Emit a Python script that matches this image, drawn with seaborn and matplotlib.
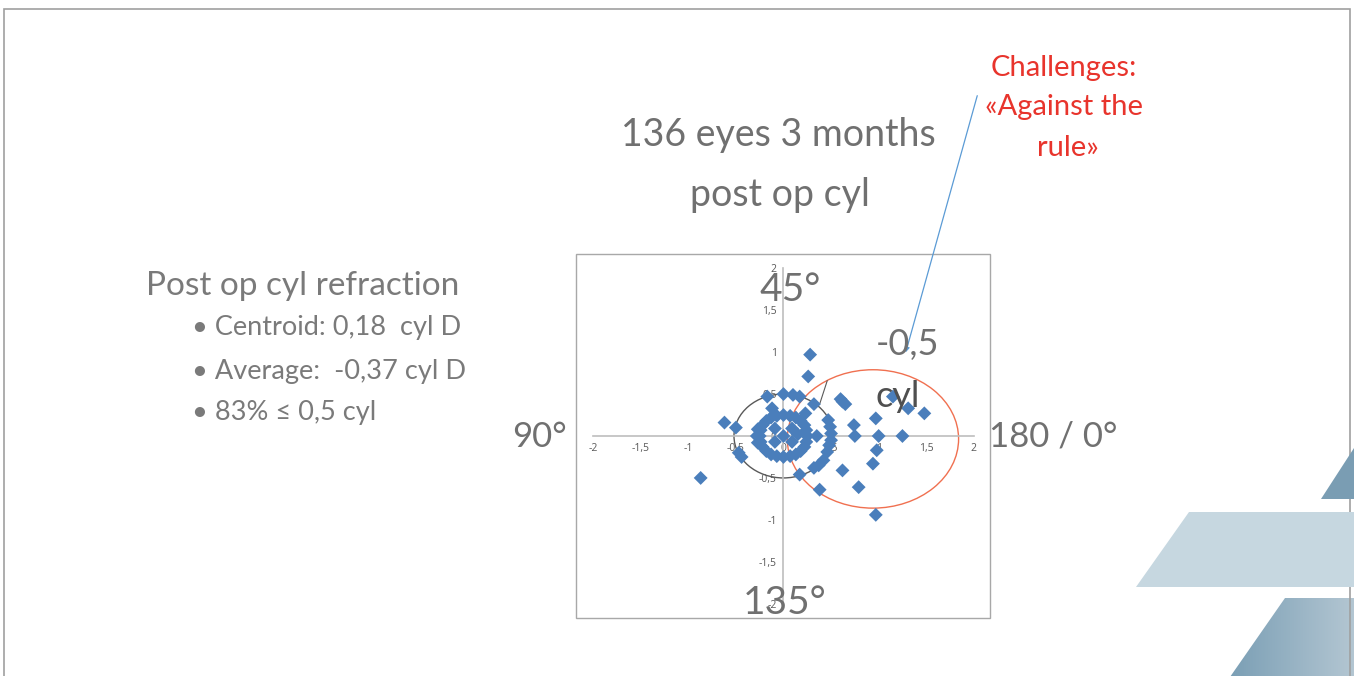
import numpy as np
import pandas as pd
import matplotlib
matplotlib.use("Agg")
import matplotlib.pyplot as plt
import seaborn as sns
from matplotlib.patches import Ellipse, Rectangle, Polygon

# valores (vetor de cilindro pós-op, em dioptrias)
pontos_x = [0.28, 0.26, -0.62, -0.50, -0.87, -0.47, -0.44,
            -0.17, 0.00, 0.10, 0.17, -0.12, 0.32, 0.23,
            0.17, 0.32, 0.37, 0.42, 0.38,
            0.60, 0.62, 0.65, 0.74, 0.75, 0.62, 0.79,
            0.97, 1.00, 0.98, 0.94, 0.97, 1.15, 1.31, 1.25, 1.48, 0.35,
            0.47, 0.49, 0.50, 0.50, 0.48, 0.46]
pontos_y = [0.97, 0.71, 0.16, 0.10, -0.50, -0.20, -0.25,
            0.47, 0.50, 0.49, 0.47, 0.33, 0.38, 0.27,
            -0.46, -0.38, -0.35, -0.29, -0.64,
            0.44, 0.41, 0.38, 0.13, 0.00, -0.41, -0.61,
            0.21, 0.00, -0.17, -0.33, -0.94, 0.47, 0.33, 0.00, 0.27, 0.00,
            0.19, 0.11, 0.03, -0.05, -0.11, -0.19]
anel_x = [0.25, 0.24, 0.22, 0.18, 0.13, 0.07, 0.00, -0.07, -0.13, -0.18, -0.22, -0.24,
          -0.25, -0.24, -0.22, -0.18, -0.13, -0.07, 0.00, 0.07, 0.13, 0.18, 0.22, 0.24,
          -0.28, -0.27, -0.27]
anel_y = [0.00, 0.07, 0.13, 0.18, 0.22, 0.24, 0.25, 0.24, 0.22, 0.18, 0.13, 0.07,
          0.00, -0.07, -0.13, -0.18, -0.22, -0.24, -0.25, -0.24, -0.22, -0.18, -0.13, -0.07,
          0.00, 0.08, -0.08]
centro_x = [0.00, -0.09, 0.09, -0.09, 0.09, 0.15]
centro_y = [0.00, 0.09, 0.09, -0.07, -0.07, 0.02]

ticks = [-2, -1.5, -1, -0.5, 0, 0.5, 1, 1.5, 2]

df = pd.DataFrame({'x': pontos_x + anel_x + centro_x,
                   'y': pontos_y + anel_y + centro_y})

sns.set_style('white')
plt.rcParams['font.family'] = ['Lato', 'DejaVu Sans']

W, H = 1354, 676
fig = plt.figure(figsize=(W / 100, H / 100), dpi=100)


def fx(x):
    return x / W


def fy(y):
    return 1 - y / H


ax = fig.add_axes([fx(576), fy(618), 414 / W, 364 / H])
sns.scatterplot(data=df, x='x', y='y', marker='D', s=50, color='#4a7ebb',
                edgecolor='none', ax=ax, zorder=3)
ax.set_xlim(-2.18, 2.17)
ax.set_ylim(-2.17, 2.17)
ax.set_xlabel('')
ax.set_ylabel('')

# eixos no centro, como no Excel
for lado in ['top', 'right']:
    ax.spines[lado].set_visible(False)
ax.spines['left'].set_position(('data', 0))
ax.spines['bottom'].set_position(('data', 0))
ax.spines['left'].set_bounds(-2, 2)
ax.spines['bottom'].set_bounds(-2, 2)
for lado in ['left', 'bottom']:
    ax.spines[lado].set_color('#bdbdbd')
    ax.spines[lado].set_linewidth(1.2)
rotulos = [('%g' % t).replace('.', ',') for t in ticks]
ax.set_xticks(ticks)
ax.set_xticklabels(rotulos)
ax.set_yticks(ticks)
ax.set_yticklabels(rotulos)
ax.tick_params(axis='both', direction='out', length=3, color='#bdbdbd',
               labelsize=7.5, labelcolor='#595959', pad=2)
for lbl in ax.get_xticklabels() + ax.get_yticklabels():
    lbl.set_family(['Open Sans', 'DejaVu Sans'])
ax.add_patch(Rectangle((0, 0), 1, 1, transform=ax.transAxes, fill=False,
                       ec='#a8a8a8', lw=1, clip_on=False))

ax.add_patch(Ellipse((0, 0), 1.04, 1.0, fill=False, ec='#595959', lw=1, zorder=2))
ax.add_patch(Ellipse((0.94, -0.035), 1.8, 1.65, fill=False, ec='#f07050', lw=1, zorder=2))
ax.plot([0.38, 0.46], [0.38, 0.66], color='#595959', lw=0.8)

# textos do slide
cinza = '#707070'
fig.text(fx(778), fy(135), '136 eyes 3 months', ha='center', va='center',
         fontsize=27, color=cinza)
fig.text(fx(780), fy(195), 'post op cyl', ha='center', va='center',
         fontsize=27, color=cinza)
fig.text(fx(146), fy(286), 'Post op cyl refraction', ha='left', va='center',
         fontsize=24, color='#7a7a7a')
for yy, txt in [(328, '• Centroid: 0,18  cyl D'), (371, '• Average:  -0,37 cyl D'),
                (413, '• 83% ≤ 0,5 cyl')]:
    fig.text(fx(192), fy(yy), txt, ha='left', va='center', fontsize=19.5, color='#7a7a7a')

fig.text(fx(539), fy(437), '90°', ha='center', va='center', fontsize=25, color=cinza)
fig.text(fx(1053), fy(437), '180 / 0°', ha='center', va='center', fontsize=25, color=cinza)
fig.text(fx(790), fy(290), '45°', ha='center', va='center', fontsize=28, color=cinza)
fig.text(fx(785), fy(603), '135°', ha='center', va='center', fontsize=28, color=cinza)
fig.text(fx(907), fy(345), '-0,5', ha='center', va='center', fontsize=26, color=cinza)
fig.text(fx(898), fy(397), 'cyl', ha='center', va='center', fontsize=26, color='#4f4f4f')

vermelho = '#e8342c'
fig.text(fx(1064), fy(68), 'Challenges:', ha='center', va='center', fontsize=21, color=vermelho)
fig.text(fx(1064), fy(107), '«Against the', ha='center', va='center', fontsize=21, color=vermelho)
fig.text(fx(1068), fy(148), 'rule»', ha='center', va='center', fontsize=21, color=vermelho)

fig.add_artist(matplotlib.patches.FancyArrowPatch(
    (fx(978), fy(93)), (fx(905), fy(355)), transform=fig.transFigure,
    arrowstyle='-|>', mutation_scale=7, color='#5b9bd5', lw=0.9))

# borda do slide e formas decorativas
fig.add_artist(Polygon([(fx(4), fy(680)), (fx(4), fy(9)), (fx(1350), fy(9)), (fx(1350), fy(680))],
                       closed=False, fill=False, ec='#a0a0a0', lw=1.2,
                       transform=fig.transFigure))
fig.add_artist(Polygon([(fx(1321), fy(499)), (fx(1354), fy(499)), (fx(1354), fy(448))],
                       fc='#7a9db3', ec='none', transform=fig.transFigure))
fig.add_artist(Polygon([(fx(1136), fy(587)), (fx(1189), fy(512)), (fx(1354), fy(512)), (fx(1354), fy(587))],
                       fc='#c6d7e0', ec='none', transform=fig.transFigure))
forma = Polygon([(fx(1230), fy(677)), (fx(1285), fy(598)), (fx(1354), fy(598)), (fx(1354), fy(677))],
                fc='none', ec='none', transform=fig.transFigure)
fig.add_artist(forma)
gax = fig.add_axes([fx(1230), fy(677), 124 / W, 79 / H])
gax.axis('off')
grad = np.linspace(0, 1, 100).reshape(1, -1)
cmap = matplotlib.colors.LinearSegmentedColormap.from_list('g', ['#7b9fb5', '#b3c6d2'])
img = gax.imshow(grad, aspect='auto', cmap=cmap, extent=[fx(1230), fx(1354), fy(677), fy(598)],
                 transform=fig.transFigure)
img.set_clip_path(forma)

fig.savefig('out.png', dpi=100)
